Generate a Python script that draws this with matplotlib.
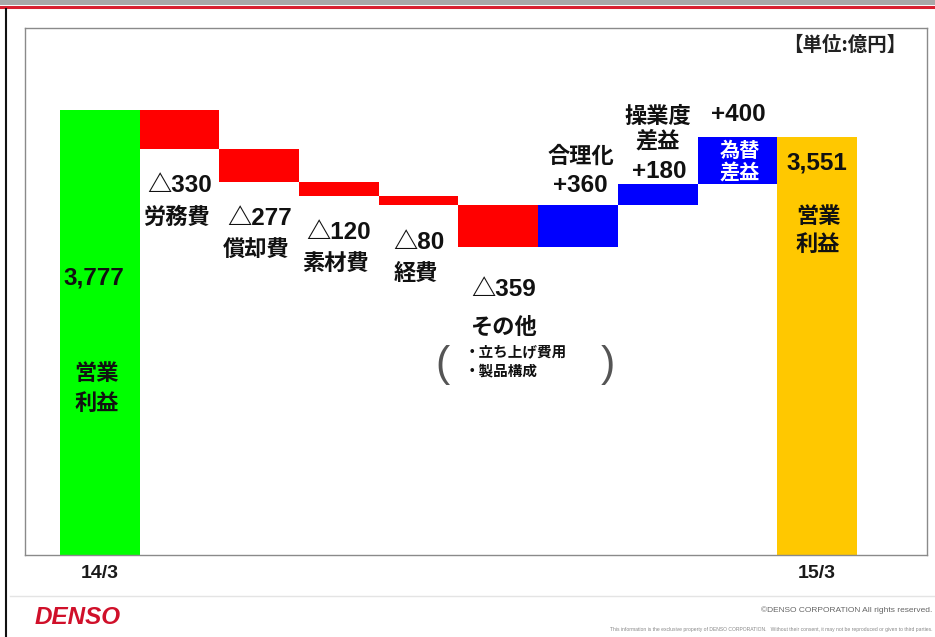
import matplotlib
matplotlib.use("Agg")
import matplotlib.pyplot as plt
from matplotlib.lines import Line2D
from matplotlib.patches import Rectangle

# 営業利益 増減要因（単位：億円）
start_label = "14/3"
end_label = "15/3"
start_value = 3777
end_value = 3551
factor_names = ["労務費", "償却費", "素材費", "経費", "その他", "合理化", "操業度\n差益", "為替\n差益"]
factor_values = [-330, -277, -120, -80, -359, 360, 180, 400]
total_name = "営業\n利益"
other_details = ["・立ち上げ費用", "・製品構成"]
unit_text = "【単位:億円】"

GREEN = "#00FF00"
RED = "#FF0000"
BLUE = "#0000FF"
GOLD = "#FFC800"

JP = ["Noto Sans CJK JP", "DejaVu Sans"]
NUM = ["Liberation Sans", "Noto Sans CJK JP", "DejaVu Sans"]

W, H = 935, 637
fig = plt.figure(figsize=(W / 100, H / 100), dpi=100)
fig.patch.set_facecolor("white")
ax = fig.add_axes([25 / W, 82 / H, 902 / W, 527 / H])

# waterfall geometry
n = len(factor_values) + 2
bottoms = [0]
heights = [start_value]
colors = [GREEN]
level = start_value
for v in factor_values:
    new = level + v
    bottoms.append(min(level, new))
    heights.append(abs(v))
    colors.append(RED if v < 0 else BLUE)
    level = new
bottoms.append(0)
heights.append(end_value)
colors.append(GOLD)
xs = list(range(n))
ax.bar(xs, heights, bottom=bottoms, width=1.0, color=colors, linewidth=0)

ax.set_xlim(-0.94, 10.38)
ax.set_ylim(0, 4474)
ax.set_yticks([])
ax.set_xticks([0, n - 1])
ax.set_xticklabels([start_label, end_label], family=NUM, fontsize=14, fontweight="bold",
                   color="#1a1a1a")
ax.tick_params(axis="x", length=0, pad=7)
for s in ax.spines.values():
    s.set_color("#8a8a8a")
    s.set_linewidth(1.0)


def put(lines, x, y, dx, dy, spacing, **kw):
    for j, line in enumerate(lines):
        ax.annotate(line, xy=(x, y), xytext=(dx, dy - j * spacing),
                    textcoords="offset pixels", ha="center", va="center", **kw)


def fmt(v):
    return ("△" if v < 0 else "+") + f"{abs(v)}"


num_kw = dict(family=NUM, fontsize=17.5, fontweight="bold", color="#111111")
jp_kw = dict(family=JP, fontsize=16, fontweight="bold", color="#111111")

# start / end totals
put([f"{start_value:,}"], 0, start_value, -6, -168, 0, **num_kw)
put(total_name.split("\n"), 0, start_value, -3, -263, 30, **jp_kw)
put([f"{end_value:,}"], n - 1, end_value, 0, -26, 0, **num_kw)
put(total_name.split("\n"), n - 1, end_value, 1, -80, 28, **jp_kw)

# factor labels
for i, (name, v) in enumerate(zip(factor_names, factor_values)):
    k = i + 1
    lines = name.split("\n")
    if v < 0:
        bot = bottoms[k]
        if name == "その他":
            put([fmt(v)], k, bot, 5, -42, 0, **num_kw)
            put(lines, k, bot, 5, -80, 0, **jp_kw)
        else:
            put([fmt(v)], k, bot, 0, -37, 0, **num_kw)
            put(lines, k, bot, -3, -68, 0, **jp_kw)
    else:
        top = bottoms[k] + heights[k]
        if len(lines) == 1:
            put([fmt(v)], k, top, 2, 20, 0, **num_kw)
            put(lines, k, top, 3, 49, 0, **jp_kw)
        elif k == n - 2:
            put([fmt(v)], k, top, 1, 22, 0, **num_kw)
            put(lines, k, top, 2, -14, 21, family=JP, fontsize=14.5,
                fontweight="bold", color="white")
        else:
            put([fmt(v)], k, top, 2, 12, 0, **num_kw)
            put(lines, k, top, 0, 67, 24, **jp_kw)

# detail of その他
k_other = factor_names.index("その他") + 1
bot_other = bottoms[k_other]
for j, line in enumerate(other_details):
    ax.annotate(line, xy=(k_other, bot_other), xytext=(-34, -104 - j * 19),
                textcoords="offset pixels", ha="left", va="center",
                family=JP, fontsize=10.5, fontweight="bold", color="#111111")
for sym, dx in (("(", -56), (")", 110)):
    ax.annotate(sym, xy=(k_other, bot_other), xytext=(dx, -118),
                textcoords="offset pixels", ha="center", va="center",
                family=["Liberation Sans"], fontsize=31, color="#555555")

# unit
fig.text(906 / W, 1 - 45 / H, unit_text, ha="right", va="center",
         family=JP, fontsize=14, fontweight="bold", color="#222222")

# page decoration
fig.patches.append(Rectangle((0, 1 - 5 / H), 1, 5 / H, transform=fig.transFigure,
                             facecolor="#a8a8a8", edgecolor="none"))
fig.lines.append(Line2D([0, 1], [1 - 7 / H, 1 - 7 / H], transform=fig.transFigure,
                        color="#d82030", linewidth=2.2))
fig.lines.append(Line2D([6 / W, 6 / W], [0, 1 - 9 / H], transform=fig.transFigure,
                        color="#111111", linewidth=1.5))
fig.lines.append(Line2D([10 / W, 1], [1 - 596 / H, 1 - 596 / H], transform=fig.transFigure,
                        color="#e4e4e4", linewidth=1.0))

fig.text(35 / W, 1 - 618 / H, "DENSO", ha="left", va="center", family=["Liberation Sans"],
         fontsize=17.5, fontweight="bold", style="italic", color="#d0102a")
fig.text(932 / W, 1 - 610 / H, "©DENSO CORPORATION All rights reserved.", ha="right",
         va="center", family=["Liberation Sans"], fontsize=6, color="#666666")
fig.text(932 / W, 1 - 629 / H,
         "This information is the exclusive property of DENSO CORPORATION.   "
         "Without their consent, it may not be reproduced or given to third parties.",
         ha="right", va="center", family=["Liberation Sans"], fontsize=3.6, color="#888888")

fig.savefig("out.png", dpi=100)
